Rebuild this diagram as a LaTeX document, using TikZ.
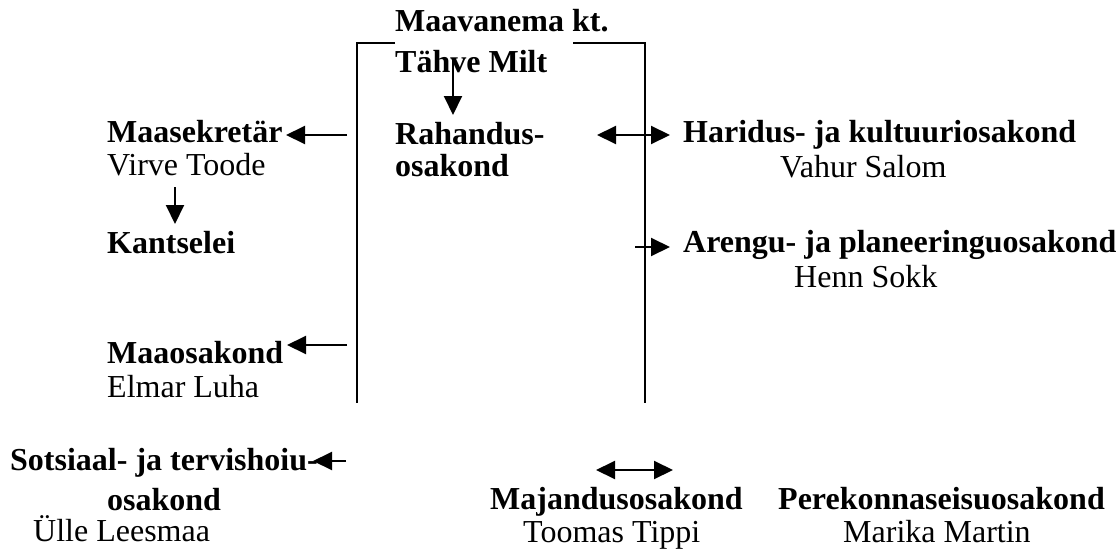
\documentclass[tikz,border=0pt]{standalone}
\usepackage{fontspec}
\setmainfont{Liberation Serif}
\usetikzlibrary{arrows.meta}
\begin{document}
\begin{tikzpicture}[x=1pt,y=-1pt,
  lbl/.style={anchor=base west,inner sep=0pt,font=\fontsize{32}{36}\selectfont},
  blbl/.style={lbl,font=\fontsize{32}{36}\selectfont\bfseries},
  ln/.style={line width=2pt},
  tip/.style={Triangle[length=19pt,width=18pt]},
  arr/.style={ln,-{Triangle[length=19pt,width=18pt]}},
  darr/.style={ln,{Triangle[length=19pt,width=18pt]}-{Triangle[length=19pt,width=18pt]}}]
\useasboundingbox (0,0) rectangle (1118,551);
% text
\node[blbl] (mv1) at (395,32) {Maavanema kt.};
\node[blbl] (mv2) at (395,73) {Tähve Milt};
\node[blbl] (rh1) at (395,144) {Rahandus-};
\node[blbl] (rh2) at (395,176) {osakond};
\node[blbl] (ms) at (107,142) {Maasekretär};
\node[lbl] (vt) at (107,175) {Virve Toode};
\node[blbl] (ka) at (107,253) {Kantselei};
\node[blbl] (hk) at (683,142) {Haridus- ja kultuuriosakond};
\node[lbl] (vs) at (780,177) {Vahur Salom};
\node[blbl] (ap) at (683,252) {Arengu- ja planeeringuosakond};
\node[lbl] (hs) at (794,287) {Henn Sokk};
\node[blbl] (mo) at (107,363) {Maaosakond};
\node[lbl] (el) at (107,397) {Elmar Luha};
\node[blbl] (st1) at (10,470) {Sotsiaal- ja tervishoiu-};
\node[blbl] (st2) at (107,510) {osakond};
\node[lbl] (ul) at (33,541) {Ülle Leesmaa};
\node[blbl] (mj) at (490,509) {Majandusosakond};
\node[lbl] (tt) at (523,542) {Toomas Tippi};
\node[blbl] (pk) at (778,509) {Perekonnaseisuosakond};
\node[lbl] (mm) at (843,542) {Marika Martin};
% bracket
\coordinate (bl) at (357,403);
\coordinate (tl) at (357,43);
\coordinate (tlx) at (395,43);
\coordinate (trx) at (573,43);
\coordinate (tr) at (645,43);
\coordinate (br) at (645,403);
\draw[ln] (tlx) -- (tl) -- (bl);
\draw[ln] (trx) -- (tr) -- (br);
% arrows
\coordinate (a1s) at (453,60); \coordinate (a1e) at (453,115);
\draw[arr] (a1s) -- (a1e);
\coordinate (a2s) at (347,135); \coordinate (a2e) at (286,135);
\draw[arr] (a2s) -- (a2e);
\coordinate (a3s) at (175,187); \coordinate (a3e) at (175,224);
\draw[arr] (a3s) -- (a3e);
\coordinate (a4s) at (347,345); \coordinate (a4e) at (287,345);
\draw[arr] (a4s) -- (a4e);
\coordinate (a5s) at (346,461); \coordinate (a5e) at (313,461);
\draw[arr] (a5s) -- (a5e);
\coordinate (d1s) at (597,135); \coordinate (d1e) at (670,135);
\draw[darr] (d1s) -- (d1e);
\coordinate (a6s) at (635,247); \coordinate (a6e) at (670,247);
\draw[arr] (a6s) -- (a6e);
\coordinate (d2s) at (596,470); \coordinate (d2e) at (673,470);
\draw[darr] (d2s) -- (d2e);
\end{tikzpicture}
\end{document}
